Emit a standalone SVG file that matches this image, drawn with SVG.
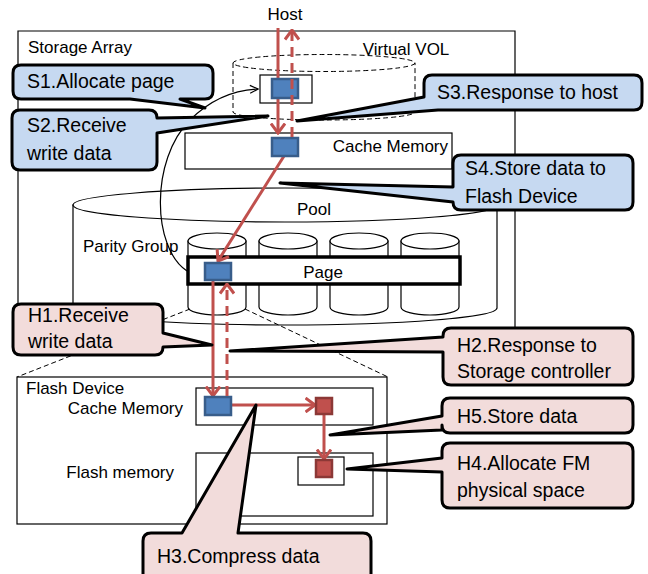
<svg xmlns="http://www.w3.org/2000/svg" width="648" height="574" viewBox="0 0 648 574">
  <style>
    .lbl { font-family: "Liberation Sans", Arial, sans-serif; font-size: 17px; fill: #000; }
    .co  { font-family: "Liberation Sans", Arial, sans-serif; font-size: 19.5px; fill: #000; }
    .box { fill: #fff; stroke: #000; stroke-width: 1.2; }
    .thin { fill: none; stroke: #000; stroke-width: 1.2; }
    .dash { fill: none; stroke: #000; stroke-width: 1; stroke-dasharray: 5 3; }
    .blk { fill: #4f81bd; stroke: #385d8a; stroke-width: 2.5; }
    .rblk { fill: #c0504d; stroke: #8c3836; stroke-width: 2.5; }
    .red { fill: none; stroke: #c0504d; stroke-width: 3; }
    .reddash { fill: none; stroke: #c0504d; stroke-width: 3; stroke-dasharray: 10 6; }
    .sc { fill: #c6d9f1; stroke: #000; stroke-width: 3; stroke-linejoin: round; }
    .hc { fill: #f2dcdb; stroke: #000; stroke-width: 3; stroke-linejoin: round; }
  </style>
  <defs>
    <marker id="chev" viewBox="0 0 12 16" refX="10.5" refY="8" markerWidth="12" markerHeight="16" markerUnits="userSpaceOnUse" orient="auto">
      <path d="M1,1 L10.5,8 L1,15" fill="none" stroke="#c0504d" stroke-width="3"/>
    </marker>
    <marker id="thinArrow" viewBox="0 0 10 10" refX="9" refY="5" markerWidth="10" markerHeight="10" markerUnits="userSpaceOnUse" orient="auto">
      <path d="M1,1 L9,5 L1,9" fill="none" stroke="#000" stroke-width="1.2"/>
    </marker>
  </defs>

  <!-- Storage array enclosure (lower edge runs behind the H callouts) -->
  <g id="storage-array">
    <path d="M18,320 V31 H515 V330" fill="#fff" stroke="#000" stroke-width="1.2"/>
    <text class="lbl" x="28" y="53">Storage Array</text>
  </g>

  <text id="host" class="lbl" x="285" y="20" text-anchor="middle">Host</text>

  <!-- Virtual volume (dashed cylinder) -->
  <g id="virtual-vol">
    <path class="dash" d="M233,63 V112 A91,8 0 0 0 415,112 V63"/>
    <ellipse class="dash" cx="324" cy="63" rx="91" ry="8.5"/>
    <text class="lbl" x="406" y="55" text-anchor="middle">Virtual VOL</text>
    <rect class="box" x="260" y="75" width="52" height="28"/>
  </g>

  <!-- Controller cache memory -->
  <g id="cache-memory">
    <rect class="box" x="185" y="133" width="267" height="36"/>
    <text class="lbl" x="448" y="152" text-anchor="end">Cache Memory</text>
  </g>

  <!-- Pool with parity group drives -->
  <g id="pool">
    <path class="box" d="M73,205 V308 A212,17 0 0 0 497,308 V205 Z"/>
    <ellipse class="box" cx="285" cy="205" rx="212" ry="17"/>
    <text class="lbl" x="314" y="215" text-anchor="middle">Pool</text>
    <text class="lbl" x="83" y="252">Parity Group</text>
  </g>

  <g id="parity-group">
    <path class="box" d="M188,241 V307 A29,8 0 0 0 246,307 V241 Z"/>
    <ellipse class="box" cx="217" cy="241" rx="29" ry="8"/>
    <path class="box" d="M259,241 V307 A29,8 0 0 0 317,307 V241 Z"/>
    <ellipse class="box" cx="288" cy="241" rx="29" ry="8"/>
    <path class="box" d="M330,241 V307 A29,8 0 0 0 388,307 V241 Z"/>
    <ellipse class="box" cx="359" cy="241" rx="29" ry="8"/>
    <path class="box" d="M401,241 V307 A29,8 0 0 0 459,307 V241 Z"/>
    <ellipse class="box" cx="430" cy="241" rx="29" ry="8"/>
  </g>

  <g id="page">
    <rect x="188" y="257" width="272" height="27" fill="#fff" stroke="#000" stroke-width="3.5"/>
    <text class="lbl" x="323" y="278" text-anchor="middle">Page</text>
  </g>

  <!-- Projection of the drive onto the flash device -->
  <g id="projection">
    <line class="dash" x1="190" y1="309" x2="17" y2="377"/>
    <line class="dash" x1="245" y1="309" x2="388" y2="377"/>
  </g>

  <!-- Flash device -->
  <g id="flash-device">
    <rect class="box" x="17" y="377" width="370" height="147"/>
    <text class="lbl" x="26" y="394">Flash Device</text>
    <text class="lbl" x="183" y="414" text-anchor="end">Cache Memory</text>
    <rect class="box" x="196" y="388" width="177" height="37"/>
    <text class="lbl" x="174" y="478" text-anchor="end">Flash memory</text>
    <rect class="box" x="196" y="453" width="177" height="63"/>
    <rect class="box" x="298" y="457" width="46" height="28"/>
  </g>

  <!-- Data flow connectors -->
  <g id="connectors">
    <path class="thin" d="M187,271 C152,248 150,160 190,120 C210,100 234,90 258,89" marker-end="url(#thinArrow)"/>
    <line class="red" x1="278" y1="28" x2="278" y2="133" marker-end="url(#chev)"/>
    <line class="red" x1="284" y1="156" x2="218" y2="261" marker-end="url(#chev)"/>
    <line class="red" x1="213" y1="281" x2="213" y2="396" marker-end="url(#chev)"/>
    <line class="red" x1="231" y1="405" x2="315" y2="405" marker-end="url(#chev)"/>
    <line class="red" x1="324" y1="414" x2="324" y2="459" marker-end="url(#chev)"/>
  </g>

  <!-- Data blocks -->
  <g id="blocks">
    <rect class="blk" x="272" y="79" width="26" height="19"/>
    <rect class="blk" x="272" y="138" width="26" height="18"/>
    <rect class="blk" x="205" y="263" width="26" height="17"/>
    <rect class="blk" x="205" y="397" width="26" height="18"/>
    <rect class="rblk" x="316" y="398" width="16" height="16"/>
    <rect class="rblk" x="316" y="460" width="16" height="17"/>
  </g>

  <!-- Response paths -->
  <g id="responses">
    <line class="reddash" x1="292" y1="137" x2="292" y2="30" marker-end="url(#chev)"/>
    <line class="reddash" x1="227" y1="396" x2="227" y2="284" marker-end="url(#chev)"/>
  </g>

  <!-- Step callouts -->
  <g id="s1">
    <path class="sc" d="M21,65 H205 Q213,65 213,73 V91 Q213,99 205,99 H180 L205,108 L130,99 H21 Q13,99 13,91 V73 Q13,65 21,65 Z"/>
    <text class="co" x="27" y="88">S1.Allocate page</text>
  </g>
  <g id="s2">
    <path class="sc" d="M20,110 H149 Q157,110 157,118 L268,116 L157,133 V162 Q157,170 149,170 H20 Q12,170 12,162 V118 Q12,110 20,110 Z"/>
    <text class="co" x="27" y="132">S2.Receive</text>
    <text class="co" x="27" y="160">write data</text>
  </g>
  <g id="s3">
    <path class="sc" d="M432,75 H634 Q642,75 642,83 V102 Q642,110 634,110 H438 L297,121 L424,97 V83 Q424,75 432,75 Z"/>
    <text class="co" x="437" y="99">S3.Response to host</text>
  </g>
  <g id="s4">
    <path class="sc" d="M461,155 H625 Q633,155 633,163 V202 Q633,210 625,210 H461 Q453,210 453,202 L280,183 L453,187 V163 Q453,155 461,155 Z"/>
    <text class="co" x="465" y="175">S4.Store data to</text>
    <text class="co" x="465" y="203">Flash Device</text>
  </g>
  <g id="h1">
    <path class="hc" d="M21,304 H155 Q163,304 163,312 V333 L212,345 L163,347 Q163,355 155,355 H21 Q13,355 13,347 V312 Q13,304 21,304 Z"/>
    <text class="co" x="28" y="322">H1.Receive</text>
    <text class="co" x="28" y="348">write data</text>
  </g>
  <g id="h2">
    <path class="hc" d="M451,328 H625 Q633,328 633,336 V377 Q633,385 625,385 H451 Q443,385 443,377 V352 L230,351 L443,337 V336 Q443,328 451,328 Z"/>
    <text class="co" x="457" y="352">H2.Response to</text>
    <text class="co" x="457" y="378">Storage controller</text>
  </g>
  <g id="h5">
    <path class="hc" d="M450,398 H625 Q633,398 633,406 V425 Q633,433 625,433 H450 Q442,433 442,425 V430 L330,435 L442,416 V406 Q442,398 450,398 Z"/>
    <text class="co" x="457" y="423">H5.Store data</text>
  </g>
  <g id="h4">
    <path class="hc" d="M450,443 H625 Q633,443 633,451 V500 Q633,508 625,508 H450 Q442,508 442,500 V472 L347,469 L442,458 V451 Q442,443 450,443 Z"/>
    <text class="co" x="457" y="470">H4.Allocate FM</text>
    <text class="co" x="457" y="497">physical space</text>
  </g>
  <g id="h3">
    <path class="hc" d="M151,533 H182 L256,405 L238,533 H363 Q371,533 371,541 V584 H143 V541 Q143,533 151,533 Z"/>
    <text class="co" x="157" y="563">H3.Compress data</text>
  </g>
</svg>
